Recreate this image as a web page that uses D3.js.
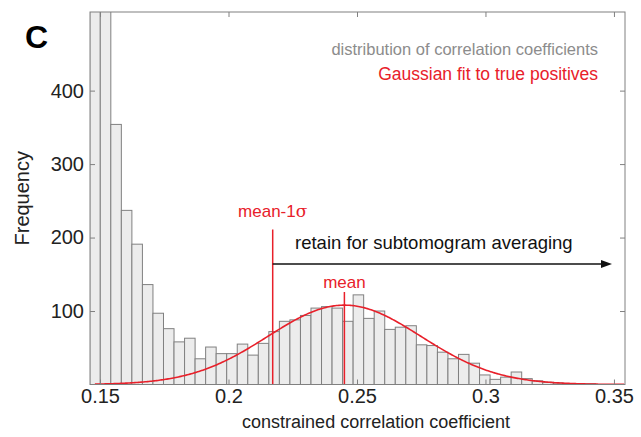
<!DOCTYPE html>
<html>
<head>
<meta charset="utf-8">
<script src="https://cdn.jsdelivr.net/npm/d3@7"></script>
<style>
body { margin: 0; background: #fff; }
text { font-family: "Liberation Sans", Arial, Helvetica, sans-serif; }
</style>
</head>
<body>
<svg id="chart" width="641" height="437"></svg>
<script>
// histogram bins (left edge + width) and counts
var binStart = 0.146, binWidth = 0.0041;
var counts = [980, 640, 354, 237, 191, 136, 97, 76, 58, 63, 35, 51, 42, 42, 55, 40,
  56, 72, 86, 88, 94, 104, 106, 104, 86, 122, 90, 100, 75, 78, 80, 54, 53, 44,
  35, 41, 29, 13, 7, 10, 17, 8, 5, 3, 2, 1, 1, 1];

// gaussian fit to true positives
var fitMean = 0.2451, fitSigma = 0.0298, fitPeak = 108;
var cutoff = 0.2172;   // mean-1 sigma marker

var xTicks = [0.15, 0.2, 0.25, 0.3, 0.35];
var yTicks = [100, 200, 300, 400];

var red = "#e8202a", grey = "#808080";

var svg = d3.select("#chart");
// note: "top" is taken by window.top, so plot edges get their own names
var pLeft = 90, pRight = 625, pTop = 12, pBottom = 384.5;

var x = d3.scaleLinear().domain([0.1461, 0.3543]).range([pLeft, pRight]);
var y = d3.scaleLinear().domain([0, 507]).range([pBottom, pTop]);

svg.append("clipPath").attr("id", "plotclip")
  .append("rect").attr("x", pLeft).attr("y", pTop)
  .attr("width", pRight - pLeft).attr("height", pBottom - pTop);

var plot = svg.append("g").attr("clip-path", "url(#plotclip)");

// bars
plot.selectAll("rect.bar")
  .data(counts)
  .enter().append("rect")
  .attr("class", "bar")
  .attr("x", function(d, i) { return x(binStart + i * binWidth); })
  .attr("width", function(d, i) { return x(binStart + (i + 1) * binWidth) - x(binStart + i * binWidth); })
  .attr("y", function(d) { return y(d); })
  .attr("height", function(d) { return y(0) - y(d); })
  .attr("fill", "#ececec")
  .attr("stroke", grey)
  .attr("stroke-width", 1);

// fit curve
var xs = d3.range(0.148, 0.3543, 0.0005);
var line = d3.line()
  .x(function(d) { return x(d); })
  .y(function(d) { return y(fitPeak * Math.exp(-Math.pow(d - fitMean, 2) / (2 * fitSigma * fitSigma))); });
plot.append("path")
  .datum(xs)
  .attr("d", line)
  .attr("fill", "none")
  .attr("stroke", red)
  .attr("stroke-width", 1.6);

// marker lines
plot.append("line")
  .attr("x1", x(cutoff)).attr("x2", x(cutoff))
  .attr("y1", y(211)).attr("y2", y(0))
  .attr("stroke", red).attr("stroke-width", 1.5);
plot.append("line")
  .attr("x1", x(fitMean)).attr("x2", x(fitMean))
  .attr("y1", y(126)).attr("y2", y(0))
  .attr("stroke", red).attr("stroke-width", 1.5);

// axes: box with inward ticks
var xAxis = d3.axisBottom(x).tickValues(xTicks).tickSizeInner(-5).tickSizeOuter(0)
  .tickPadding(4).tickFormat(function(d) { return String(d); });
var yAxis = d3.axisLeft(y).tickValues(yTicks).tickSizeInner(-5).tickSizeOuter(0)
  .tickPadding(6);

var gx = svg.append("g").attr("transform", "translate(0," + pBottom + ")").call(xAxis);
var gy = svg.append("g").attr("transform", "translate(" + pLeft + ",0)").call(yAxis);
var gt = svg.append("g").attr("transform", "translate(0," + pTop + ")")
  .call(d3.axisTop(x).tickValues(xTicks).tickSizeInner(-5).tickSizeOuter(0).tickFormat(""));
var gr = svg.append("g").attr("transform", "translate(" + pRight + ",0)")
  .call(d3.axisRight(y).tickValues(yTicks).tickSizeInner(-5).tickSizeOuter(0).tickFormat(""));

[gx, gy, gt, gr].forEach(function(g) {
  g.select(".domain").remove();
  g.selectAll(".tick line").attr("stroke", grey);
  g.selectAll(".tick text").attr("fill", "#222").style("font-size", "20px")
    .style("font-family", "'Liberation Sans', Arial, Helvetica, sans-serif");
});

svg.append("rect")
  .attr("x", pLeft).attr("y", pTop)
  .attr("width", pRight - pLeft).attr("height", pBottom - pTop)
  .attr("fill", "none").attr("stroke", grey).attr("stroke-width", 1);

// labels
svg.append("text")
  .attr("x", 25).attr("y", 48)
  .style("font-size", "32px").style("font-weight", "bold")
  .text("C");

svg.append("text")
  .attr("transform", "translate(29," + ((pTop + pBottom) / 2) + ") rotate(-90)")
  .attr("text-anchor", "middle")
  .style("font-size", "20px").attr("fill", "#222")
  .text("Frequency");

svg.append("text")
  .attr("x", 376).attr("y", 428)
  .attr("text-anchor", "middle")
  .style("font-size", "18px").attr("fill", "#222")
  .text("constrained correlation coefficient");

// legend
svg.append("text")
  .attr("x", 598).attr("y", 55)
  .attr("text-anchor", "end")
  .style("font-size", "16.5px").attr("fill", "#8c8c8c")
  .text("distribution of correlation coefficients");
svg.append("text")
  .attr("x", 598).attr("y", 80)
  .attr("text-anchor", "end")
  .style("font-size", "17.5px").attr("fill", red)
  .text("Gaussian fit to true positives");

// annotations
var t1 = svg.append("text")
  .attr("x", x(cutoff)).attr("y", 217)
  .attr("text-anchor", "middle")
  .style("font-size", "17px").attr("fill", red);
t1.append("tspan").text("mean-1");
t1.append("tspan").style("font-family", "'DejaVu Serif', 'Liberation Serif', serif").text("σ");

svg.append("text")
  .attr("x", x(fitMean)).attr("y", 288)
  .attr("text-anchor", "middle")
  .style("font-size", "17px").attr("fill", red)
  .text("mean");

var arrowY = y(164), arrowEnd = 612;
svg.append("line")
  .attr("x1", x(cutoff)).attr("x2", arrowEnd - 8)
  .attr("y1", arrowY).attr("y2", arrowY)
  .attr("stroke", "#111").attr("stroke-width", 1.5);
svg.append("path")
  .attr("d", "M" + arrowEnd + "," + arrowY + "l-11,-4l0,8z")
  .attr("fill", "#111");

svg.append("text")
  .attr("x", 295).attr("y", 249)
  .style("font-size", "18.5px").attr("fill", "#111")
  .text("retain for subtomogram averaging");
</script>
</body>
</html>
